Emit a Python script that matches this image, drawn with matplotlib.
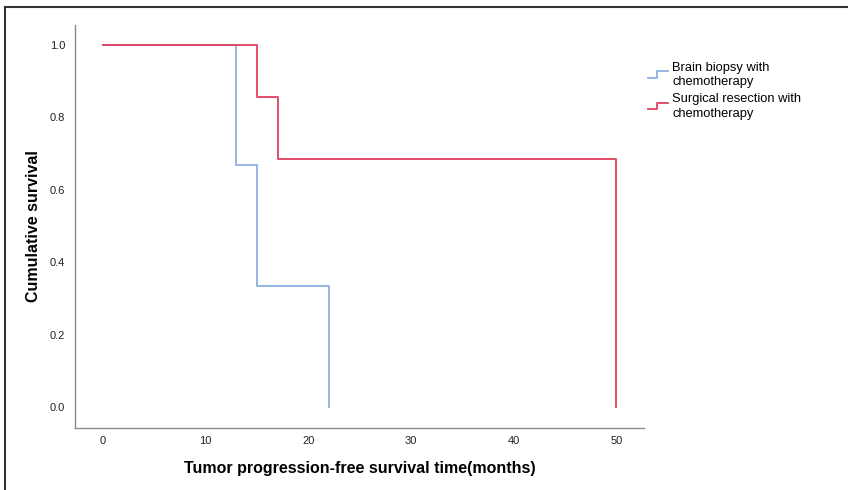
import matplotlib
matplotlib.use("Agg")
import matplotlib.pyplot as plt
from matplotlib.lines import Line2D
from matplotlib.legend_handler import HandlerLine2D
import numpy as np

plt.rcParams['font.family'] = ['Liberation Sans', 'DejaVu Sans']

# Data (Kaplan-Meier step points)
biopsy_t = [0, 13, 15, 22]
biopsy_s = [1.0, 0.667, 0.333, 0.0]
surgery_t = [0, 15, 17, 50]
surgery_s = [1.0, 0.857, 0.686, 0.0]
series_labels = ["Brain biopsy with\nchemotherapy", "Surgical resection with\nchemotherapy"]
xticks = [0, 10, 20, 30, 40, 50]
yticks = [0.0, 0.2, 0.4, 0.6, 0.8, 1.0]

blue = "#8cb0e0"
red = "#e2405f"

fig = plt.figure(figsize=(8.48, 4.90), dpi=100)
ax = fig.add_axes([75/848, 62/490, (644-75)/848, (428-25)/490])

def km_xy(t, s):
    xs, ys = [t[0]], [s[0]]
    for i in range(1, len(t)):
        xs += [t[i], t[i]]
        ys += [s[i-1], s[i]]
    return xs, ys

bx, by = km_xy(biopsy_t, biopsy_s)
sx, sy = km_xy(surgery_t, surgery_s)
l1, = ax.plot(bx, by, color=blue, lw=1.3, label=series_labels[0])
l2, = ax.plot(sx, sy, color=red, lw=1.3, label=series_labels[1])

ax.set_xlim(-2.73, 52.7)
ax.set_ylim(-0.058, 1.055)
ax.set_xticks(xticks)
ax.set_xticklabels([str(v) for v in xticks])
ax.set_yticks(yticks)
ax.set_yticklabels([f"{v:.1f}" for v in yticks])
ax.tick_params(length=0, labelsize=8, colors="#222222")
ax.tick_params(axis='x', pad=6)
ax.tick_params(axis='y', pad=7)
for side in ['top', 'right']:
    ax.spines[side].set_visible(False)
for side in ['left', 'bottom']:
    ax.spines[side].set_color("#8a8a8a")
    ax.spines[side].set_linewidth(1.0)

ax.set_xlabel("Tumor progression-free survival time(months)", fontsize=11.5, fontweight='bold', va='center')
ax.set_ylabel("Cumulative survival", fontsize=11.5, fontweight='bold', va='center')
ax.xaxis.set_label_coords((360-75)/569, (428-468)/403)
ax.yaxis.set_label_coords((34-75)/569, 0.5)

class StepHandler(HandlerLine2D):
    def create_artists(self, legend, orig_handle, xdescent, ydescent, width, height, fontsize, trans):
        x0 = -xdescent
        y0 = -ydescent
        xs = [x0, x0 + width*0.45, x0 + width*0.45, x0 + width]
        ys = [y0 + height*0.2, y0 + height*0.2, y0 + height*0.9, y0 + height*0.9]
        ln = Line2D(xs, ys, color=orig_handle.get_color(), lw=1.3)
        ln.set_transform(trans)
        return [ln]

leg = fig.legend(handles=[l1, l2], labels=series_labels, loc='upper left',
                 bbox_to_anchor=(636/848, 1 - 50/490), frameon=False,
                 fontsize=9.3, handlelength=1.6, handletextpad=0.3,
                 labelspacing=0.35, handler_map={Line2D: StepHandler()})
for t in leg.get_texts():
    t.set_linespacing(1.3)

# outer frame
fig.add_artist(Line2D([4.5/848, 4.5/848], [0, 1 - 7/490], transform=fig.transFigure, color="#333333", lw=1.5))
fig.add_artist(Line2D([4.5/848, 1], [1 - 7/490, 1 - 7/490], transform=fig.transFigure, color="#333333", lw=1.5))

fig.savefig("out.png", dpi=100)
